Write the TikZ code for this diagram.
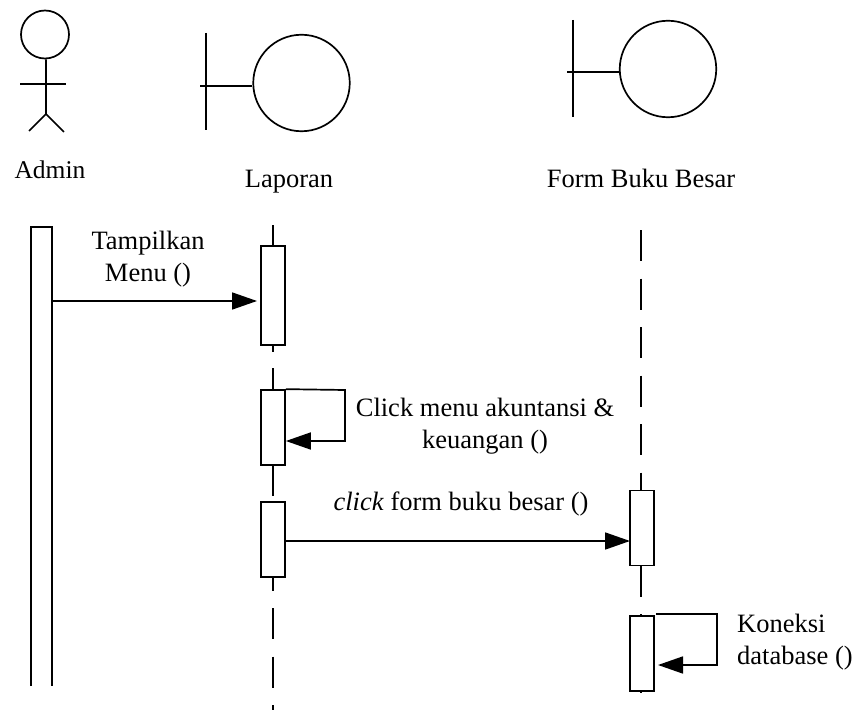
\documentclass[tikz,border=0pt]{standalone}
\usepackage{fontspec}
\setmainfont{Liberation Serif}
\usetikzlibrary{arrows.meta}
\tikzset{
    garis/.style={line width=1.7pt},
    kepala/.style={draw,circle,line width=1.7pt,inner sep=0pt},
    aktif/.style={draw,rectangle,line width=1.7pt,inner sep=0pt,minimum width=24pt,minimum height=75pt,fill=white},
    pesan/.style={line width=1.7pt,-{Triangle[length=25pt,width=17pt]}},
    putus/.style={line width=1.7pt,dash pattern=on 31pt off 17.5pt},
    teks/.style={font=\fontsize{26.5}{32}\selectfont,inner sep=0pt,align=center},
  }
\begin{document}
\begin{tikzpicture}[x=1pt,y=-1pt]
    \useasboundingbox (0,0) rectangle (856,714);
    % aktor admin
    \node[kepala,minimum size=48pt] (admin) at (45,34.5) {};
    \coordinate (pinggul) at (46,114);
    \coordinate (tanganL) at (20,84);
    \coordinate (tanganR) at (66,84);
    \coordinate (kakiL) at (29,131);
    \coordinate (kakiR) at (64,132);
    \draw[garis] (admin.south -| pinggul) -- (pinggul) -- (kakiL);
    \draw[garis] (pinggul) -- (kakiR);
    \draw[garis] (tanganL) -- (tanganR);
    \node[teks,font=\fontsize{25.5}{32}\selectfont] (adminText) at (50,170) {Admin};
    % boundary laporan
    \node[kepala,minimum size=96.5pt] (laporan) at (301.5,83) {};
    \coordinate (lapAtas) at (206,33);
    \coordinate (lapBawah) at (206,130);
    \coordinate (lapKiri) at (200,86);
    \draw[garis] (lapAtas) -- (lapBawah);
    \draw[garis] (lapKiri) -- (laporan.west |- lapKiri);
    \node[teks,anchor=base] (laporanText) at (289,187) {Laporan};
    % boundary form
    \node[kepala,minimum size=96.5pt] (form) at (668,69) {};
    \coordinate (formAtas) at (573,20);
    \coordinate (formBawah) at (573,117);
    \coordinate (formKiri) at (567,72);
    \draw[garis] (formAtas) -- (formBawah);
    \draw[garis] (formKiri) -- (form.west |- formKiri);
    \node[teks,anchor=base] (formText) at (641,187) {Form Buku Besar};
    % batang aktif
    \node[minimum width=21pt,minimum height=459pt,inner sep=0pt] (adminBar) at (41.5,456.5) {};
    \draw[garis] (adminBar.south west) -- (adminBar.north west) -- (adminBar.north east) -- (adminBar.south east);
    \node[aktif,minimum height=99pt] (lapA) at (273,295.5) {};
    \node[aktif] (lapB) at (273,427.5) {};
    \node[aktif] (lapC) at (273,539.5) {};
    \node[aktif] (formA) at (642,528) {};
    \node[aktif] (formB) at (642,653.5) {};
    % garis hidup
    \coordinate (lap1) at (273,225);
    \coordinate (lap2) at (273,352);
    \coordinate (lap3) at (273,368);
    \coordinate (lap4) at (273,496);
    \coordinate (lap5) at (273,591);
    \coordinate (lap6) at (273,608);
    \coordinate (lap7) at (273,710);
    \coordinate (form1) at (641,230);
    \coordinate (form2) at (641,597);
    \coordinate (form3) at (641,614);
    \coordinate (form4) at (641,693);
    \draw[garis] (lap1) -- (lap1 |- lapA.north);
    \draw[garis] (lap2 |- lapA.south) -- (lap2);
    \draw[garis] (lap3) -- (lap3 |- lapB.north);
    \draw[garis] (lap4 |- lapB.south) -- (lap4);
    \draw[garis] (lap5 |- lapC.south) -- (lap5);
    \draw[putus] (lap6) -- (lap7);
    \draw[putus] (form1) -- (form1 |- formA.north);
    \draw[garis] (form2 |- formA.south) -- (form2);
    \draw[garis] (form3) -- (form3 |- formB.north);
    \draw[garis] (form4 |- formB.south) -- (form4);
    % pesan
    \coordinate (masuk) at (261,301);
    \draw[pesan,shorten >=4pt] (adminBar.east |- masuk) -- (masuk);
    \node[teks] (tampilText) at (148,259.5) {Tampilkan\\Menu ()};
    \coordinate (lapPojok) at (345,390);
    \coordinate (lapBalik) at (345,441);
    \draw[pesan] (lapB.north east) -- (lapPojok) -- (lapBalik) -- (lapB.east |- lapBalik);
    \node[teks] (clickText) at (485,426.5) {Click menu akuntansi \&\\keuangan ()};
    \coordinate (keForm) at (630,541);
    \draw[pesan] (lapC.east |- keForm) -- (keForm);
    \node[teks] (bukuText) at (461,504) {\textit{click} form buku besar ()};
    \coordinate (formMulai) at (656,614);
    \coordinate (formPojok) at (717,614);
    \coordinate (formBalik) at (717,665);
    \coordinate (formUjung) at (658,665);
    \draw[pesan] (formMulai) -- (formPojok) -- (formBalik) -- (formUjung);
    \node[teks,align=left,anchor=west] (koneksiText) at (737,642) {Koneksi\\database ()};
\end{tikzpicture}
\end{document}
